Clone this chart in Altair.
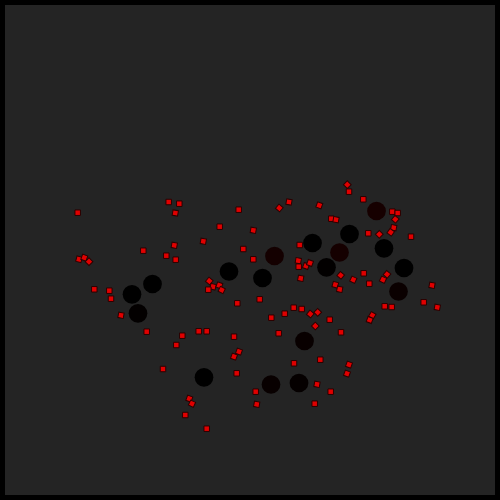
import altair as alt
import pandas as pd

# Large dark circles (x, y, y downward)
circle_x = [376.5, 349.5, 312.5, 339.5, 274.5, 229, 262.5, 326.5, 384, 404, 398.5, 152.5, 132, 138, 304.5, 204, 271, 299]
circle_y = [211, 234, 243, 252.5, 256, 271.5, 278, 267.3, 248.3, 268, 291.5, 284, 294.3, 313.3, 341, 377.3, 384.5, 383]
circle_color = ["#160000", "#000000", "#000000", "#150000", "#140000", "#000000", "#000000", "#020000",
                "#000000", "#000000", "#0a0000", "#000000", "#000000", "#030000", "#080000", "#000000",
                "#080000", "#050000"]

# Small red squares
sq_x = [77.7, 168.7, 179.3, 175.3, 238.7, 219.7, 143.3, 174.3, 203.3, 166.3, 175.7, 79, 84.3, 89,
        94.3, 109.3, 111, 121, 146.7, 182.3, 198.7, 206.7, 234, 209.3, 213, 219.3, 221.7, 208.3, 237.3,
        347.3, 349, 363.3, 392.3, 397.7, 395.3, 393.7, 390.7, 379.3, 368.3, 411,
        279.3, 289, 319.3, 331.3, 336, 253.3, 243.3, 253.3, 299.7, 298.3, 298.7, 306, 310, 300.7,
        340.7, 353.3, 363.7, 335.3, 339.7, 369.3, 387, 383, 432, 259.7, 293.7, 301.7, 310.3, 317.7,
        271.3, 284.7, 329.7, 315.3, 384.7, 391.7, 423.7, 437.3, 372.3, 369.7, 278.7, 341,
        176.3, 239, 234, 294, 320.3, 349, 347, 163, 236.7, 317, 330.7, 255.7, 256.7, 314.7,
        189.3, 192, 185.3, 206.7]
sq_y = [212.7, 202, 203.7, 213, 209.7, 226.7, 250.7, 245.3, 241.3, 255.7, 259.7, 259.3, 257.7, 261.7,
        289.3, 290.7, 298.7, 315.3, 331.7, 335.7, 331.3, 331.3, 336.7, 281, 286.7, 285.3, 290, 289.7, 303.3,
        184.7, 191.7, 199.3, 211.7, 213, 219.3, 227.7, 232.3, 234.3, 233.3, 236.7,
        208, 202, 205.3, 218.7, 219.7, 230.3, 249, 259.3, 245, 260.7, 266.7, 266, 263, 278.3,
        275.3, 279.7, 273.3, 284.7, 289.3, 283.7, 274.3, 279.7, 285.3, 299.3, 307.7, 309, 314, 312.3,
        317.7, 313.7, 319.7, 326, 306.3, 307, 302.3, 307.3, 315.3, 320, 333.3, 332.3,
        345, 351.7, 356.7, 363.3, 359.7, 364.7, 373.7, 369, 373.3, 384.3, 391.7, 391.7, 404.3, 403.7,
        398.7, 403.7, 415, 428.7]
sq_angle = [0, 0, 0, 10, 0, 0, 0, 10, 10, 0, 0, 15, 20, 45,
            0, 0, 0, 10, 0, 0, 0, 0, 0, 40, 15, 20, 25, 0, 0,
            45, 0, 0, 0, 0, 40, 10, 35, 45, 0, 0,
            40, 10, 20, 0, 10, 10, 0, 0, 0, 10, 0, 20, 20, 10,
            40, 25, 0, 15, 10, 0, 40, 25, 10, 0, 0, 0, 40, 45,
            0, 0, 0, 45, 0, 0, 0, 10, 30, 20, 0, 0,
            0, 20, 20, 0, 0, 20, 20, 0, 0, 10, 0, 0, 10, 0,
            20, 25, 0, 0]

circles = pd.DataFrame({"x": circle_x, "y": circle_y, "c": circle_color})
squares = pd.DataFrame({"x": sq_x, "y": sq_y, "angle": sq_angle})

xs = alt.Scale(domain=[5, 495])
ys = alt.Scale(domain=[5, 495], reverse=True)

circ = alt.Chart(circles).mark_circle(size=350, opacity=1).encode(
    x=alt.X("x:Q", scale=xs, axis=None),
    y=alt.Y("y:Q", scale=ys, axis=None),
    color=alt.Color("c:N", scale=None),
)

sq = alt.Chart(squares).mark_point(
    shape="square", filled=True, size=30, fill="#e00000", stroke="#2a0000", strokeWidth=1, opacity=1
).encode(
    x=alt.X("x:Q", scale=xs, axis=None),
    y=alt.Y("y:Q", scale=ys, axis=None),
    angle=alt.Angle("angle:Q", scale=None),
)

chart = alt.layer(circ, sq).properties(
    width=490, height=490, padding=5, background="#000000",
    autosize=alt.AutoSizeParams(type="none"),
).configure_view(fill="#242424", stroke=None)

chart.save("out.html", embed_options={"renderer": "svg", "actions": False})
